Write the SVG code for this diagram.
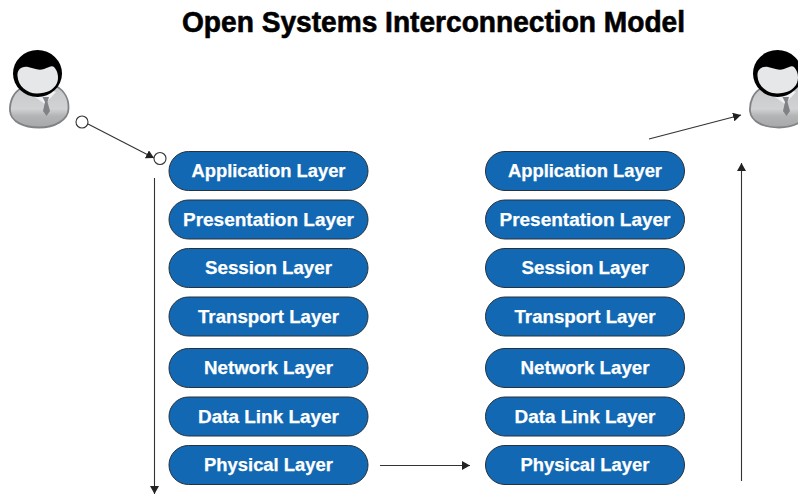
<svg xmlns="http://www.w3.org/2000/svg" width="798" height="494" viewBox="0 0 798 494">
<style>
text{font-family:"Liberation Sans",Arial,sans-serif;font-weight:700;text-anchor:middle}
.title{font-size:29px;fill:#000;stroke:#000;stroke-width:.6}
.lbl{font-size:18.400px;fill:#fff;stroke:#fff;stroke-width:.25}
.pill{fill:#1268b3;stroke:#26323d;stroke-width:1}
.c{fill:none;stroke:#333;stroke-width:1.100}
.o{fill:#fff;stroke:#333;stroke-width:1.100}
</style>
<defs>
<marker id="a" markerUnits="userSpaceOnUse" markerWidth="9" markerHeight="9" refX="8" refY="4.500" orient="auto"><path d="M0 0L8 4.500L0 9Z" fill="#222"/></marker>
<linearGradient id="b" x1="0" y1="0" x2="0" y2="1"><stop offset="0" stop-color="#c6c7c9"/><stop offset=".55" stop-color="#d2d3d4"/><stop offset=".72" stop-color="#b3b4b6"/><stop offset="1" stop-color="#a7a8aa"/></linearGradient>
<g id="person">
<path d="M23 87C13 92 9.500 102 10 111C11 122 24 127.500 39 127.500C55 127.500 68 120 68.500 109C69 100 65 91 56 86Z" fill="url(#b)" stroke="#808285" stroke-width="1.800"/>
<path d="M32 95L45 104L56 92L50 90L38 92Z" fill="#f1f1f2"/>
<path d="M42.500 97L49 97L47.500 102L50 111L46.500 116L43 111L45 102Z" fill="#808285"/>
<ellipse cx="37.500" cy="73.500" rx="24.500" ry="23.500" fill="#000"/>
<path d="M17.500 76C17 70 21 66 28 67C33 68 38 71 44 69C49 67 52 65 54 67C58 71 59 78 57 83C54 90 46 93.500 37 93.500C27 93.500 18 86 17.500 76Z" fill="#e6e7e8"/>
</g>
</defs>
<text class="title" x="433.500" y="32" textLength="503" lengthAdjust="spacingAndGlyphs">Open Systems Interconnection Model</text>
<g id="person-left"><use href="#person"/></g>
<g id="person-right"><use href="#person" x="740"/></g>
<g id="connectors">
<path class="c" d="M88 124L154 158" marker-end="url(#a)"/>
<path class="c" d="M154.500 178V494" marker-end="url(#a)"/>
<path class="c" d="M380 465.500H470" marker-end="url(#a)"/>
<path class="c" d="M741.500 481V163" marker-end="url(#a)"/>
<path class="c" d="M649 139L741 115" marker-end="url(#a)"/>
<circle class="o" cx="82" cy="122" r="6"/>
<circle class="o" cx="160" cy="158.500" r="6"/>
</g>
<g id="l-app"><rect class="pill" x="169" y="151.500" width="199" height="39" rx="19.500"/><text class="lbl" x="268.500" y="177" textLength="154" lengthAdjust="spacingAndGlyphs">Application Layer</text></g>
<g id="l-pres"><rect class="pill" x="169" y="200" width="199" height="39" rx="19.500"/><text class="lbl" x="268.500" y="225.500" textLength="171" lengthAdjust="spacingAndGlyphs">Presentation Layer</text></g>
<g id="l-ses"><rect class="pill" x="169" y="248.500" width="199" height="39" rx="19.500"/><text class="lbl" x="268.500" y="274" textLength="127" lengthAdjust="spacingAndGlyphs">Session Layer</text></g>
<g id="l-tra"><rect class="pill" x="169" y="297" width="199" height="39" rx="19.500"/><text class="lbl" x="268.500" y="322.500" textLength="141" lengthAdjust="spacingAndGlyphs">Transport Layer</text></g>
<g id="l-net"><rect class="pill" x="169" y="348.500" width="199" height="39" rx="19.500"/><text class="lbl" x="268.500" y="374" textLength="129" lengthAdjust="spacingAndGlyphs">Network Layer</text></g>
<g id="l-dat"><rect class="pill" x="169" y="397" width="199" height="39" rx="19.500"/><text class="lbl" x="268.500" y="422.500" textLength="141" lengthAdjust="spacingAndGlyphs">Data Link Layer</text></g>
<g id="l-phy"><rect class="pill" x="169" y="445.500" width="199" height="39" rx="19.500"/><text class="lbl" x="268.500" y="471" textLength="129" lengthAdjust="spacingAndGlyphs">Physical Layer</text></g>
<g id="r-app"><rect class="pill" x="485.500" y="151.500" width="199" height="39" rx="19.500"/><text class="lbl" x="585" y="177" textLength="154" lengthAdjust="spacingAndGlyphs">Application Layer</text></g>
<g id="r-pres"><rect class="pill" x="485.500" y="200" width="199" height="39" rx="19.500"/><text class="lbl" x="585" y="225.500" textLength="171" lengthAdjust="spacingAndGlyphs">Presentation Layer</text></g>
<g id="r-ses"><rect class="pill" x="485.500" y="248.500" width="199" height="39" rx="19.500"/><text class="lbl" x="585" y="274" textLength="127" lengthAdjust="spacingAndGlyphs">Session Layer</text></g>
<g id="r-tra"><rect class="pill" x="485.500" y="297" width="199" height="39" rx="19.500"/><text class="lbl" x="585" y="322.500" textLength="141" lengthAdjust="spacingAndGlyphs">Transport Layer</text></g>
<g id="r-net"><rect class="pill" x="485.500" y="348.500" width="199" height="39" rx="19.500"/><text class="lbl" x="585" y="374" textLength="129" lengthAdjust="spacingAndGlyphs">Network Layer</text></g>
<g id="r-dat"><rect class="pill" x="485.500" y="397" width="199" height="39" rx="19.500"/><text class="lbl" x="585" y="422.500" textLength="141" lengthAdjust="spacingAndGlyphs">Data Link Layer</text></g>
<g id="r-phy"><rect class="pill" x="485.500" y="445.500" width="199" height="39" rx="19.500"/><text class="lbl" x="585" y="471" textLength="129" lengthAdjust="spacingAndGlyphs">Physical Layer</text></g>
</svg>
